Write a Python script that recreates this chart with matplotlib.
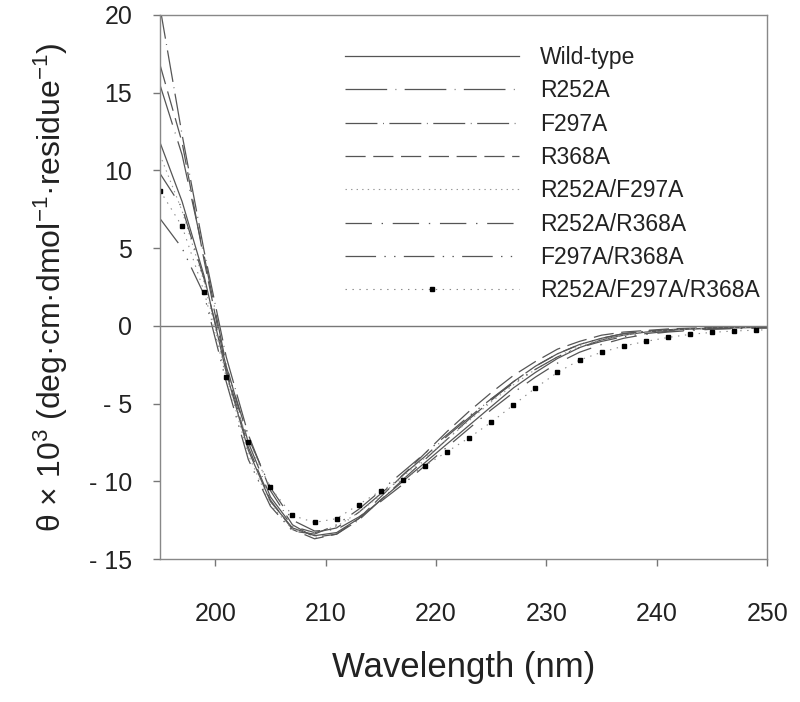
import matplotlib
matplotlib.use("Agg")
import matplotlib.pyplot as plt

plt.rcParams['font.family'] = ['Liberation Sans', 'DejaVu Sans']
plt.rcParams['mathtext.fontset'] = 'custom'
plt.rcParams['mathtext.rm'] = 'Liberation Sans'
plt.rcParams['mathtext.it'] = 'Liberation Sans'
plt.rcParams['lines.scale_dashes'] = False

# wavelength (nm) and mean residue ellipticity (x 10^3)
wavelength = [195, 197, 199, 201, 203, 205, 207, 209, 211, 213, 215, 217, 219, 221,
              223, 225, 227, 229, 231, 233, 235, 237, 239, 241, 243, 245, 247, 249, 250]

wild_type = [11.8, 8.0, 3.2, -3.0, -8.0, -11.3, -13.0, -13.5, -13.3, -12.4, -11.2, -10.0, -8.8, -7.6,
             -6.4, -5.2, -4.0, -3.0, -2.1, -1.4, -0.9, -0.6, -0.4, -0.3, -0.2, -0.15, -0.12, -0.1, -0.1]
r252a = [15.5, 11.0, 4.5, -2.5, -7.5, -11.0, -12.9, -13.3, -13.0, -12.0, -10.8, -9.6, -8.4, -7.1,
         -5.9, -4.7, -3.6, -2.6, -1.8, -1.2, -0.8, -0.5, -0.35, -0.25, -0.2, -0.15, -0.1, -0.1, -0.1]
f297a = [20.5, 12.3, 4.8, -2.0, -7.0, -10.6, -12.8, -13.6, -13.4, -12.5, -11.2, -9.9, -8.6, -7.3,
         -6.0, -4.8, -3.6, -2.6, -1.8, -1.2, -0.8, -0.5, -0.35, -0.25, -0.2, -0.15, -0.12, -0.1, -0.1]
r368a = [16.8, 11.8, 4.2, -2.8, -7.8, -11.2, -13.1, -13.7, -13.4, -12.4, -11.0, -9.6, -8.2, -6.8,
         -5.5, -4.3, -3.2, -2.3, -1.5, -1.0, -0.6, -0.4, -0.3, -0.2, -0.15, -0.1, -0.1, -0.1, -0.1]
r252a_f297a = [11.0, 7.4, 2.8, -3.2, -8.3, -11.5, -13.1, -13.3, -12.9, -12.0, -10.9, -9.7, -8.5, -7.3,
               -6.1, -4.9, -3.8, -2.8, -2.0, -1.3, -0.9, -0.6, -0.4, -0.3, -0.2, -0.15, -0.12, -0.1, -0.1]
r252a_r368a = [9.8, 7.6, 3.0, -2.6, -7.2, -10.4, -12.5, -13.2, -13.1, -12.3, -11.3, -10.2, -9.0, -7.8,
               -6.6, -5.4, -4.3, -3.3, -2.4, -1.7, -1.2, -0.8, -0.55, -0.4, -0.3, -0.22, -0.18, -0.15, -0.15]
f297a_r368a = [6.9, 5.0, 2.0, -3.6, -8.6, -11.6, -13.2, -13.4, -12.8, -11.8, -10.6, -9.4, -8.2, -7.0,
               -5.8, -4.7, -3.7, -2.8, -2.0, -1.4, -1.0, -0.7, -0.5, -0.35, -0.25, -0.2, -0.15, -0.12, -0.1]
triple = [8.7, 6.4, 2.2, -3.3, -7.5, -10.4, -12.2, -12.65, -12.4, -11.5, -10.6, -9.9, -9.0, -8.1,
          -7.2, -6.2, -5.1, -4.0, -3.0, -2.2, -1.7, -1.3, -1.0, -0.75, -0.55, -0.42, -0.33, -0.28, -0.25]

labels = ["Wild-type", "R252A", "F297A", "R368A", "R252A/F297A",
          "R252A/R368A", "F297A/R368A", "R252A/F297A/R368A"]

ytick_vals = [20, 15, 10, 5, 0, -5, -10, -15]
ytick_text = ["20", "15", "10", "5", "0", "- 5", "- 10", "- 15"]
xtick_vals = [200, 210, 220, 230, 240, 250]

fig = plt.figure(figsize=(8, 7.02), dpi=100)
ax = fig.add_axes([0.2, 0.2037, 0.759, 0.775])

gray = '#555555'
ax.plot(wavelength, wild_type, color=gray, lw=0.9, ls='-', label=labels[0])
ax.plot(wavelength, r252a, color=gray, lw=0.9, ls=(0, (30, 6, 0.6, 6)), label=labels[1])
ax.plot(wavelength, f297a, color=gray, lw=0.9, ls=(0, (23, 4, 0.6, 4)), label=labels[2])
ax.plot(wavelength, r368a, color=gray, lw=0.9, ls=(0, (14.5, 5.5)), label=labels[3])
ax.plot(wavelength, r252a_f297a, color='#999999', lw=0.8, ls=(0, (1, 3)), label=labels[4])
ax.plot(wavelength, r252a_r368a, color=gray, lw=0.9, ls=(0, (19, 7, 1, 7)), label=labels[5])
ax.plot(wavelength, f297a_r368a, color=gray, lw=0.9, ls=(0, (22, 6, 1, 6, 1, 6)), label=labels[6])
ax.plot(wavelength, triple, color='#888888', lw=0.8, ls=(0, (1, 4)),
        marker='s', markersize=3.2, markerfacecolor='black', markeredgecolor='black',
        markevery=slice(0, 28), label=labels[7])

ax.axhline(0, color='#777777', lw=1.0)

ax.set_xlim(195, 250)
ax.set_ylim(-15, 20)
ax.set_xticks(xtick_vals)
ax.set_yticks(ytick_vals)
ax.set_yticklabels(ytick_text)
ax.tick_params(axis='both', direction='out', length=5, width=1, color='#777777',
               labelsize=18, labelcolor='#222222')
ax.tick_params(axis='x', pad=26)
ax.tick_params(axis='y', pad=15)
for s in ax.spines.values():
    s.set_color('#888888')
    s.set_linewidth(1.0)

ax.set_xlabel("Wavelength (nm)", fontsize=25, color='#222222', labelpad=18)
ax.set_ylabel(r"θ × 10$^{3}$ (deg·cm·dmol$^{-1}$·residue$^{-1}$)",
              fontsize=23, color='#222222', labelpad=14)

leg = ax.legend(loc='upper left', bbox_to_anchor=(0.305, 0.943), frameon=False,
                fontsize=16.5, handlelength=7.6, handletextpad=0.9, labelspacing=0.45,
                borderpad=0, borderaxespad=0, markerscale=1.0)
for t in leg.get_texts():
    t.set_color('#222222')

fig.savefig("out.png", dpi=100)
